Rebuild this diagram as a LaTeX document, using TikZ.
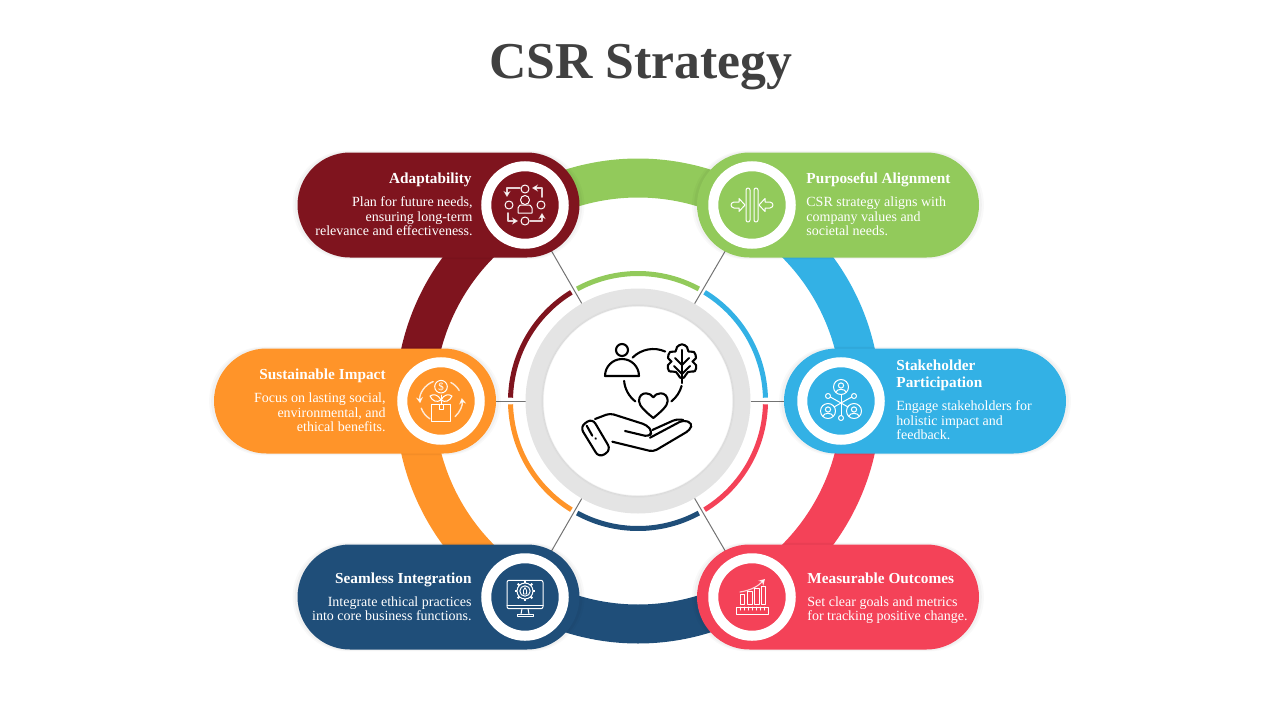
\documentclass[tikz,border=0pt]{standalone}
\usepackage{fontspec}
\setmainfont{Liberation Serif}
\usetikzlibrary{shapes.misc,shadows,backgrounds,arrows.meta}
\definecolor{wine}{HTML}{7F141E}
\definecolor{leaf}{HTML}{92CA5B}
\definecolor{sky}{HTML}{33B1E5}
\definecolor{amber}{HTML}{FF9429}
\definecolor{navy}{HTML}{1F4E79}
\definecolor{rose}{HTML}{F44258}
\definecolor{hubgrey}{HTML}{E4E4E4}
\definecolor{ink}{HTML}{404040}
\tikzset{
	pillbox/.style={rounded rectangle,fill=#1,minimum width=141pt,minimum height=52.5pt,inner sep=0pt,
		general shadow={shadow scale=1.035,fill=black,opacity=0.025},
		general shadow={shadow scale=1.02,fill=black,opacity=0.03}},
	iconbox/.style={circle,fill=#1,draw=white,line width=5pt,minimum size=38.75pt,inner sep=0pt},
	headtext/.style={text=white,inner sep=0pt,font=\fontsize{7.65}{8.5}\selectfont\bfseries},
	bodytext/.style={text=white,inner sep=0pt,text depth=0pt,font=\fontsize{7}{7.25}\selectfont},
	iconline/.style={draw=white,line width=0.5pt,line cap=round,line join=round},
	handline/.style={draw=black,line width=1.05pt,line cap=round,line join=round},
	spoke/.style={draw=black!55,line width=0.5pt},
	elbow/.style={iconline,line width=0.85pt,draw opacity=0.8,fill opacity=0.8,-{Stealth[length=3pt,width=3.5pt]}}
}
\begin{document}
\begin{tikzpicture}[x=0.5pt,y=0.5pt]
	\useasboundingbox (0,0) rectangle (1280,720);

	\node[ink,inner sep=0pt,anchor=base,font=\fontsize{25.85}{28}\selectfont\bfseries] (title) at (640.5,642) {CSR Strategy};

	\node[pillbox=wine] (pillAdapt) at (438.5,515) {};
	\node[pillbox=leaf] (pillAlign) at (838,515) {};
	\node[pillbox=amber] (pillImpact) at (355,319) {};
	\node[pillbox=sky] (pillStake) at (925,319) {};
	\node[pillbox=navy] (pillSeam) at (438.5,123) {};
	\node[pillbox=rose] (pillMeas) at (838,123) {};

	\node[iconbox=wine] (iconAdapt) at (525,515) {};
	\node[iconbox=leaf] (iconAlign) at (752,515) {};
	\node[iconbox=amber] (iconImpact) at (441,319) {};
	\node[iconbox=sky] (iconStake) at (841,319) {};
	\node[iconbox=navy] (iconSeam) at (525,123) {};
	\node[iconbox=rose] (iconMeas) at (752,123) {};

	\node[circle,fill=white,draw=hubgrey,line width=8.75pt,minimum size=103.75pt,inner sep=0pt] (hub) at (638,319) {};
	\draw[black,draw opacity=0.025,line width=1.2pt] (hub.center) circle (95.5);
	\draw[black,draw opacity=0.025,line width=0.6pt] (hub.center) circle (94.8);

	\begin{scope}[on background layer]
		\foreach \col/\from/\to in {leaf/120/60,sky/60/0,rose/0/-60,navy/-60/-120,amber/-120/-180,wine/180/120}
			\draw[\col,line width=19.5pt] ([shift={(\from:223)}]hub.center) arc (\from:\to:223);
		\foreach \col/\from/\to in {leaf/118.5/61.5,sky/58.5/1.5,rose/-1.5/-58.5,navy/-61.5/-118.5,amber/-121.5/-178.5,wine/178.5/121.5}
			\draw[\col,line width=2.5pt] ([shift={(\from:127.5)}]hub.center) arc (\from:\to:127.5);
		\draw[spoke] (hub) -- (iconAdapt);
		\draw[spoke] (hub) -- (iconAlign);
		\draw[spoke] (hub) -- (iconImpact);
		\draw[spoke] (hub) -- (iconStake);
		\draw[spoke] (hub) -- (iconSeam);
		\draw[spoke] (hub) -- (iconMeas);
	\end{scope}

	\node[headtext,anchor=base east] (headAdapt) at (472,537) {Adaptability};
	\node[bodytext,align=right,anchor=south east] (textAdapt) at (473,484) {Plan for future needs,\\ensuring long-term\\relevance and effectiveness.};
	\node[headtext,anchor=base west] (headAlign) at (806,537) {Purposeful Alignment};
	\node[bodytext,align=left,anchor=south west] (textAlign) at (806,484) {CSR strategy aligns with\\company values and\\societal needs.};
	\node[headtext,anchor=base east] (headImpact) at (386,341) {Sustainable Impact};
	\node[bodytext,align=right,anchor=south east] (textImpact) at (386,288) {Focus on lasting social,\\environmental, and\\ethical benefits.};
	\node[headtext,align=left,text depth=0pt,anchor=south west] (headStake) at (896,332) {Stakeholder\\Participation};
	\node[bodytext,align=left,anchor=south west] (textStake) at (896,280) {Engage stakeholders for\\holistic impact and\\feedback.};
	\node[headtext,anchor=base east] (headSeam) at (472,137) {Seamless Integration};
	\node[bodytext,align=right,anchor=south east] (textSeam) at (472,99) {Integrate ethical practices\\into core business functions.};
	\node[headtext,anchor=base west] (headMeas) at (807,137) {Measurable Outcomes};
	\node[bodytext,align=left,anchor=south west] (textMeas) at (807,99) {Set clear goals and metrics\\for tracking positive change.};

	\begin{scope}[shift={(iconAdapt)}]
		\foreach \p in {(0,16),(0,-16),(-16,0),(16,0)}
			\draw[iconline] \p circle (4);
		\draw[elbow] (-5,17) -- (-18,17) -- (-18,8);
		\draw[elbow] (17,8) -- (17,17) -- (7,17);
		\draw[elbow] (5,-16) -- (17,-16) -- (17,-8);
		\draw[elbow] (-17,-8) -- (-17,-16) -- (-7,-16);
		\draw[iconline] (0,5) circle (4.5);
		\draw[iconline] (-7,-8) -- (-7,-3) .. controls (-7,0) and (-4,0) .. (-3,0) -- (3,0) .. controls (4,0) and (7,0) .. (7,-3) -- (7,-8) -- cycle;
	\end{scope}

	\begin{scope}[shift={(iconAlign)}]
		\draw[iconline,rounded corners=1pt] (-6,-17) rectangle (-2,17);
		\draw[iconline,rounded corners=1pt] (2,-17) rectangle (6,17);
		\foreach \s in {1,-1}
			\draw[iconline,xscale=\s] (-7,0) -- (-13,6.5) -- (-13,3) -- (-18,3) .. controls (-20,3) and (-21,1) .. (-21,0) .. controls (-21,-1) and (-20,-3) .. (-18,-3) -- (-13,-3) -- (-13,-6.5) -- cycle;
	\end{scope}

	\begin{scope}[shift={(iconImpact)}]
		\draw[iconline] (0,14.3) circle (6.3);
		\node[text=white,inner sep=0pt,font=\fontsize{5.5}{6}\selectfont] (dollar) at (0,14.3) {\$};
		\draw[iconline] (-9.3,-20) rectangle (9.3,-3.3);
		\draw[iconline] (-2,-3.3) -- (-2,-8) -- (2,-8) -- (2,-3.3);
		\draw[iconline] (0,-3.3) -- (0,6);
		\draw[iconline] (0,1) .. controls (-3,7) and (-8,7) .. (-11,5) .. controls (-9,0) and (-4,-2) .. (0,1);
		\draw[iconline] (0,1) .. controls (3,7) and (8,7) .. (11,5) .. controls (9,0) and (4,-2) .. (0,1);
		\draw[elbow,line width=0.7pt] (112:21) arc (112:186:21);
		\draw[elbow,line width=0.7pt] (-48:21) arc (-48:8:21);
		\draw[iconline,line width=0.7pt,draw opacity=0.8] (62:21) arc (62:30:21);
		\draw[iconline,line width=0.7pt,draw opacity=0.8] (200:21) arc (200:238:21);
	\end{scope}

	\begin{scope}[shift={(iconStake)}]
		\foreach \p in {(0,14),(-13,-10),(13,-10)} {
			\draw[iconline,shift={\p}] (0,0) circle (7.5);
			\draw[iconline,shift={\p}] (0,1.5) circle (2.6);
			\draw[iconline,shift={\p}] (-5,-5) .. controls (-4,-1.5) and (4,-1.5) .. (5,-5);
		}
		\foreach \p in {(-13,5),(13,5),(0,-17)}
			\draw[iconline] \p circle (2.5);
		\draw[iconline] (0,-2) -- (0,6.5);
		\draw[iconline] (0,-2) -- (0,-14.5);
		\draw[iconline] (0,-2) -- (-7,-6);
		\draw[iconline] (0,-2) -- (7,-6);
		\draw[iconline] (0,-2) -- (-10.7,4);
		\draw[iconline] (0,-2) -- (10.7,4);
	\end{scope}

	\begin{scope}[shift={(iconSeam)}]
		\draw[iconline,rounded corners=1pt] (-18,-11.7) rectangle (18,16.7);
		\draw[iconline] (-18,-8) -- (18,-8);
		\draw[iconline] (-3,-11.7) -- (-4,-17);
		\draw[iconline] (3,-11.7) -- (4,-17);
		\draw[iconline] (-8,-19) rectangle (8,-17);
		\draw[iconline] (0,6) circle (8);
		\draw[iconline] (0,6) circle (5.2);
		\foreach \a in {0,45,...,315}
			\draw[iconline,line width=0.9pt,line cap=butt,shift={(0,6)}] (\a:8) -- (\a:10.3);
		\draw[iconline,line width=0.4pt] (-1.6,3) -- (-1.6,6.5) -- (0,9.5) -- (1.6,6.5) -- (1.6,3) -- cycle;
	\end{scope}

	\begin{scope}[shift={(iconMeas)}]
		\draw[iconline] (-12,-7) rectangle (-8,3);
		\draw[iconline] (-5,-7) rectangle (0,6);
		\draw[iconline] (2,-7) rectangle (7,9);
		\draw[iconline] (9,-7) rectangle (13,11);
		\draw[iconline] (-16,-17) rectangle (16,-10);
		\foreach \x in {-12,-8,...,12}
			\draw[iconline] (\x,-10) -- (\x,-13);
		\draw[elbow,line width=0.55pt] (-12,5) .. controls (0,7) and (6,11) .. (13,18);
	\end{scope}

	\begin{scope}[shift={(hub)}]
		\draw[handline] (-16,51) circle (6);
		\draw[handline] (-33,25) arc (180:0:17) -- cycle;
		\draw[handline] (15.3,22.7) ++(135:29.3) arc (135:66:29.3);
		\draw[handline] (15.3,22.7) ++(-15:29.3) arc (-15:-52:29.3);
		\draw[handline] (15.3,22.7) ++(185:29.3) arc (185:232:29.3);
		\draw[handline,shift={(44,37)},smooth cycle,tension=0.6] plot coordinates {(0,19.7) (5,17) (6.5,12.5) (12,12) (14,6) (10.5,2.5) (14,-1) (13,-7) (6,-8) (2,-13.5) (-2,-13.5) (-6,-8) (-13,-7) (-14,-1) (-10.5,2.5) (-14,6) (-12,12) (-6.5,12.5) (-5,17)};
		\draw[handline] (44,51) -- (44,18);
		\draw[handline] (44,36) -- (51,43);
		\draw[handline] (44,36) -- (37,43);
		\draw[handline] (44,27) -- (52,35);
		\draw[handline] (44,27) -- (36,35);
		\draw[handline] (15.3,-17) .. controls (8,-11) and (1,-5) .. (1,0) .. controls (1,5) and (4,7.7) .. (8,7.7) .. controls (11,7.7) and (14,6) .. (15.3,3.7) .. controls (16.6,6) and (19.6,7.7) .. (22.6,7.7) .. controls (26.6,7.7) and (29.7,5) .. (29.7,0) .. controls (29.7,-5) and (22.6,-11) .. (15.3,-17);
		\draw[handline,rounded corners=3pt] (-58,-25.7) -- (-45.7,-17.3) -- (-27,-49) -- (-39,-56.7) -- cycle;
		\draw[handline] (-51.3,-24.7) -- (-45.7,-34.7);
		\draw[handline] (-42.5,-37.3) -- (-42.2,-37.8);
		\draw[handline,rounded corners=2pt] (-43,-18) -- (-28,-12.3) -- (8.7,-24) -- (14.3,-30.7) -- (11,-35.7) -- (-13,-30);
		\draw[handline,rounded corners=2pt] (-25.7,-40.7) -- (15.3,-50.7) -- (52,-29) -- (54.3,-22.3) -- (45.3,-19) -- (12,-36.7);
		\draw[handline,rounded corners=2pt] (14.3,-29) -- (38.7,-18) -- (45.3,-19);
	\end{scope}
\end{tikzpicture}
\end{document}
